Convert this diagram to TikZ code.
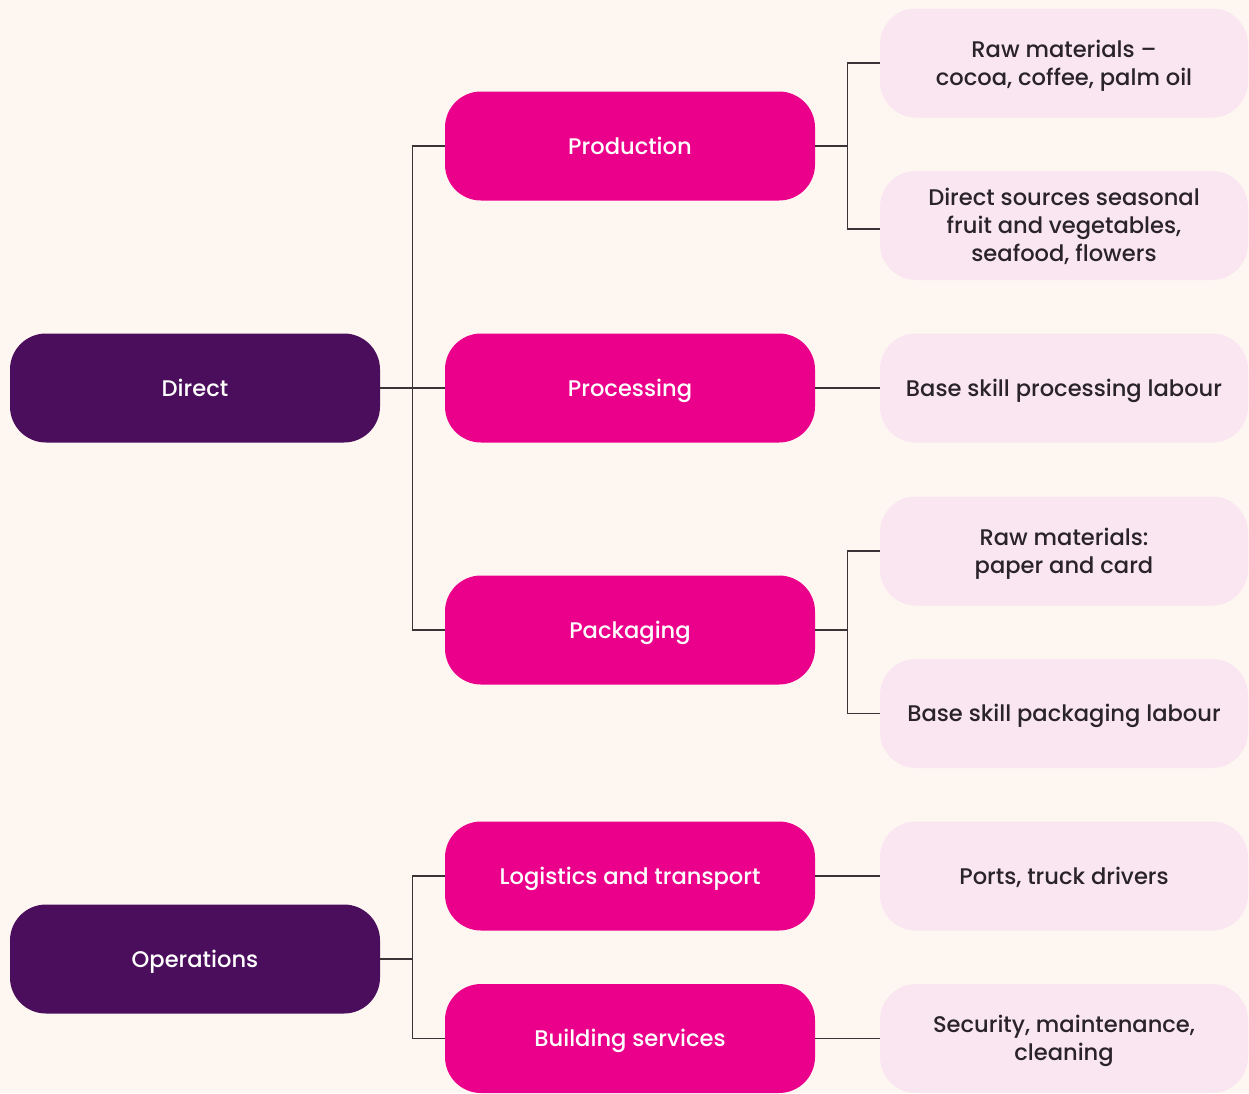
\documentclass[tikz,border=0pt]{standalone}
\usepackage{fontspec}
\setmainfont{Poppins Medium}
\definecolor{bg}{HTML}{FEF6F1}
\definecolor{dark}{HTML}{4B0E5C}
\definecolor{mag}{HTML}{EB008B}
\definecolor{pale}{HTML}{F9E6F1}
\definecolor{txt}{HTML}{2A2328}
\definecolor{ln}{HTML}{3A3436}
\begin{document}
\begin{tikzpicture}[x=1pt,y=-1pt,
  box/.style={rounded corners=36pt, minimum width=370pt, minimum height=109pt, inner sep=0pt, align=center,
    font=\fontsize{22.6}{28}\selectfont, text height=16pt, text depth=0pt},
  two/.style={text height=44pt},
  three/.style={text height=72pt},
  topbox/.style={box, fill=dark, text=white},
  midbox/.style={box, fill=mag, text=white},
  leafbox/.style={box, fill=pale, text=txt, minimum width=368pt},
  conn/.style={draw=ln, line width=1.1pt}]
\fill[bg] (0,0) rectangle (1249,1093);
\useasboundingbox (0,0) rectangle (1249,1093);

\node[topbox] (direct) at (195,388) {Direct};
\node[topbox] (ops) at (195,959) {Operations};

\node[midbox] (prod) at (630,146) {Production};
\node[midbox] (proc) at (630,388) {Processing};
\node[midbox] (pack) at (630,630) {Packaging};
\node[midbox] (log) at (630,876) {Logistics and transport};
\node[midbox] (bld) at (630,1038.5) {Building services};

\node[leafbox, two] (rm) at (1064,63) {Raw materials --\\cocoa, coffee, palm oil};
\node[leafbox, three] (ds) at (1064,225.5) {Direct sources seasonal\\fruit and vegetables,\\seafood, flowers};
\node[leafbox] (bsp) at (1064,388) {Base skill processing labour};
\node[leafbox, two] (rmp) at (1064,551) {Raw materials:\\paper and card};
\node[leafbox] (bspk) at (1064,713.5) {Base skill packaging labour};
\node[leafbox] (ports) at (1064,876) {Ports, truck drivers};
\node[leafbox, two] (sec) at (1064,1038.5) {Security, maintenance,\\cleaning};

\draw[conn] (direct.east) -- (proc.west);
\draw[conn] (prod.west) -- ++(-32,0) |- (pack.west);
\draw[conn] (ops.east) -- ++(33,0);
\draw[conn] (log.west) -- ++(-32,0) |- (bld.west);

\draw[conn] (prod.east) -- ++(33,0);
\draw[conn] (rm.west) -- ++(-32,0) |- ([yshift=-3.5pt]ds.west);
\draw[conn] (proc.east) -- (bsp.west);
\draw[conn] (pack.east) -- ++(33,0);
\draw[conn] (rmp.west) -- ++(-32,0) |- (bspk.west);
\draw[conn] (log.east) -- (ports.west);
\draw[conn] (bld.east) -- (sec.west);
\end{tikzpicture}
\end{document}
